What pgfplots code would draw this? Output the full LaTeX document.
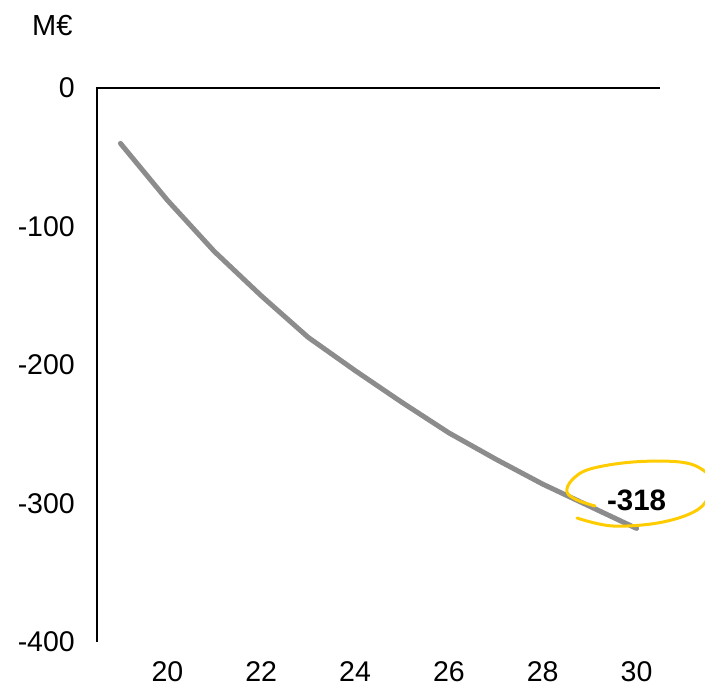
\documentclass[border=0pt]{standalone}
\usepackage{fontspec}
\setmainfont{Liberation Sans}
\usepackage{pgfplots}
\pgfplotsset{compat=1.18}
\definecolor{linegray}{HTML}{8C8C8C}
\definecolor{markyellow}{HTML}{FFCC00}

\begin{document}
\begin{tikzpicture}
% page frame: the axis box's lower left corner sits at (0,0)
\path[use as bounding box] (-97bp,-46bp) rectangle ++(705bp,688bp);
\begin{axis}[
    at={(0,0)}, anchor=south west,
    scale only axis,
    width=563bp, height=554bp,
    xmin=18.5, xmax=30.5,
    ymin=-400, ymax=0,
    xtick={20,22,24,26,28,30},
    xticklabels={20,22,24,26,28,30},
    ytick={-400,-300,-200,-100,0},
    yticklabels={-400,-300,-200,-100,0},
    axis lines*=left,
    axis line style={draw=none},
    major tick length=0pt,
    tick style={draw=none},
    ticklabel style={font=\fontsize{28.5bp}{31bp}\selectfont, inner sep=0pt},
    yticklabel style={anchor=east, xshift=-22bp},
    xticklabel style={anchor=north, yshift=-19bp},
    clip=false,
]
% net result, M EUR
\addplot[linegray, line width=5bp, line join=round, line cap=round] coordinates {
    (19,-40) (20,-81) (21,-118) (22,-150) (23,-180) (24,-204)
    (25,-227) (26,-249) (27,-268) (28,-286) (29,-302) (30,-318)
};
\draw[black, line width=1.3bp] (axis cs:18.5,-400) -- (axis cs:18.5,0) -- (axis cs:30.5,0);
\node[anchor=base, yshift=18bp, font=\fontsize{29.5bp}{32bp}\selectfont\bfseries] at (axis cs:30,-318) {-318};
\end{axis}
\begin{scope}[x=1bp, y=-1bp, shift={(-97,-642)}]
  \node[anchor=base east, font=\fontsize{29bp}{32bp}\selectfont] at (76,36) {M€};
  % hand drawn ring round the last value
  \draw[markyellow, line width=3bp, line cap=round]
    plot[smooth, tension=0.6] coordinates {
      (595,506) (577,500) (567,492) (572,480) (590,469) (633,462)
      (680,462) (703,470) (712,484) (700,508) (663,522) (613,526) (577,518)};
\end{scope}
\end{tikzpicture}
\end{document}
